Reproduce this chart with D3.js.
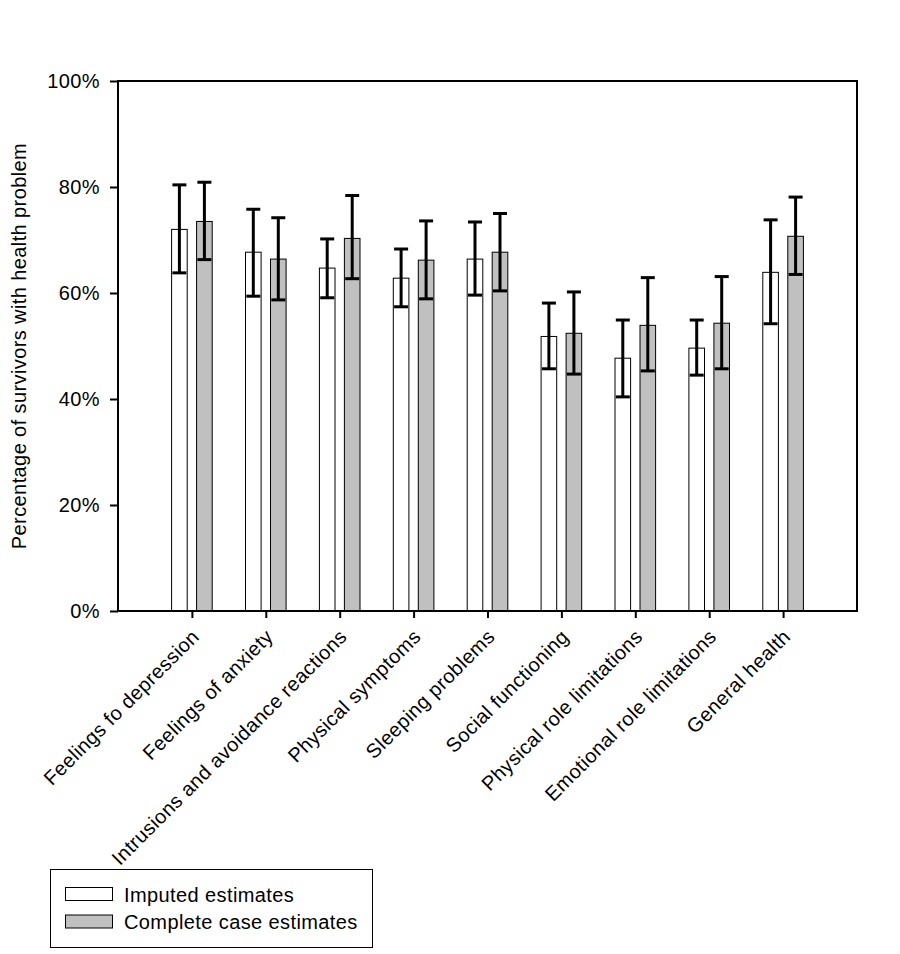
<!DOCTYPE html>
<html>
<head>
<meta charset="utf-8">
<script src="https://cdn.jsdelivr.net/npm/d3@7/dist/d3.min.js"></script>
<style>
  body { margin: 0; background: #fff; }
  text { font-family: "Liberation Sans", Arial, sans-serif; fill: #000; }
</style>
</head>
<body>
<svg id="chart" width="900" height="954"></svg>
<script>
const categories = ["Feelings fo depression", "Feelings of anxiety", "Intrusions and avoidance reactions",
  "Physical symptoms", "Sleeping problems", "Social functioning", "Physical role limitations",
  "Emotional role limitations", "General health"];
const seriesNames = ["Imputed estimates", "Complete case estimates"];
const imputed      = [72.0, 67.7, 64.7, 62.8, 66.4, 51.8, 47.7, 49.6, 63.9];
const imputedLow   = [63.8, 59.4, 59.1, 57.4, 59.6, 45.7, 40.4, 44.5, 54.2];
const imputedHigh  = [80.4, 75.8, 70.2, 68.3, 73.4, 58.1, 54.9, 54.9, 73.8];
const complete     = [73.5, 66.4, 70.3, 66.2, 67.7, 52.4, 53.9, 54.3, 70.7];
const completeLow  = [66.3, 58.7, 62.7, 58.9, 60.4, 44.7, 45.3, 45.7, 63.5];
const completeHigh = [80.9, 74.2, 78.4, 73.6, 75.0, 60.2, 62.9, 63.1, 78.1];
const yTicks = [0, 20, 40, 60, 80, 100];

const svg = d3.select("#chart");
const mLeft = 118, mRight = 857, mTop = 81, mBottom = 611;
const fs = "20px", ls = "0.4px";

const x = d3.scalePoint().domain(categories).range([mLeft, mRight]).padding(1);
const y = d3.scaleLinear().domain([0, 100]).range([mBottom, mTop]);
const off = d3.scaleOrdinal().domain(seriesNames).range([-12.5, 12.5]);
const fills = d3.scaleOrdinal().domain(seriesNames).range(["#ffffff", "#c0c0c0"]);
const barW = 15.6;

const series = [
  {name: seriesNames[0], v: imputed, lo: imputedLow, hi: imputedHigh},
  {name: seriesNames[1], v: complete, lo: completeLow, hi: completeHigh}
];

// bars
series.forEach(s => {
  const g = svg.append("g");
  g.selectAll("rect").data(categories).join("rect")
    .attr("x", (c) => x(c) + off(s.name) - barW / 2)
    .attr("y", (c, i) => y(s.v[i]))
    .attr("width", barW)
    .attr("height", (c, i) => y(0) - y(s.v[i]))
    .attr("fill", fills(s.name))
    .attr("stroke", "#000")
    .attr("stroke-width", 1);
});

// error bars
series.forEach(s => {
  const g = svg.append("g").attr("stroke", "#000").attr("stroke-width", 3);
  categories.forEach((c, i) => {
    const cx = x(c) + off(s.name);
    g.append("line").attr("x1", cx).attr("x2", cx).attr("y1", y(s.lo[i])).attr("y2", y(s.hi[i]));
    g.append("line").attr("x1", cx - 7).attr("x2", cx + 7).attr("y1", y(s.hi[i])).attr("y2", y(s.hi[i]));
    g.append("line").attr("x1", cx - 7).attr("x2", cx + 7).attr("y1", y(s.lo[i])).attr("y2", y(s.lo[i]));
  });
});

// frame
svg.append("rect").attr("x", mLeft).attr("y", mTop).attr("width", mRight - mLeft).attr("height", mBottom - mTop)
  .attr("fill", "none").attr("stroke", "#000").attr("stroke-width", 2);

// y axis
const yAxis = svg.append("g").attr("transform", `translate(${mLeft},0)`)
  .call(d3.axisLeft(y).tickValues(yTicks).tickFormat(d => d + "%").tickSize(8).tickPadding(10));
yAxis.select(".domain").remove();
yAxis.selectAll(".tick line").attr("stroke", "#000").attr("stroke-width", 2);
yAxis.selectAll("text").style("font-size", fs).style("letter-spacing", ls).attr("font-family", null);

// x axis
const xAxis = svg.append("g").attr("transform", `translate(0,${mBottom})`)
  .call(d3.axisBottom(x).tickSize(7).tickPadding(0));
xAxis.select(".domain").remove();
xAxis.selectAll(".tick line").attr("stroke", "#000").attr("stroke-width", 2);
xAxis.selectAll("text")
  .style("font-size", fs).style("letter-spacing", ls).attr("font-family", null)
  .attr("text-anchor", "end")
  .attr("dy", null)
  .attr("y", 0)
  .attr("transform", "translate(8,27) rotate(-45)");

// y label
svg.append("text")
  .attr("transform", "translate(26,346) rotate(-90)")
  .attr("text-anchor", "middle")
  .style("font-size", fs).style("letter-spacing", ls)
  .text("Percentage of survivors with health problem");

// legend
const lg = svg.append("g");
lg.append("rect").attr("x", 50.5).attr("y", 869.5).attr("width", 322).attr("height", 78)
  .attr("fill", "#fff").attr("stroke", "#000").attr("stroke-width", 1);
seriesNames.forEach((n, i) => {
  lg.append("rect").attr("x", 65.5).attr("y", 887.5 + i * 27.5).attr("width", 47).attr("height", 13)
    .attr("fill", fills(n)).attr("stroke", "#000").attr("stroke-width", 1);
  lg.append("text").attr("x", 124).attr("y", 902 + i * 27).style("font-size", fs).style("letter-spacing", ls).text(n);
});
</script>
</body>
</html>
